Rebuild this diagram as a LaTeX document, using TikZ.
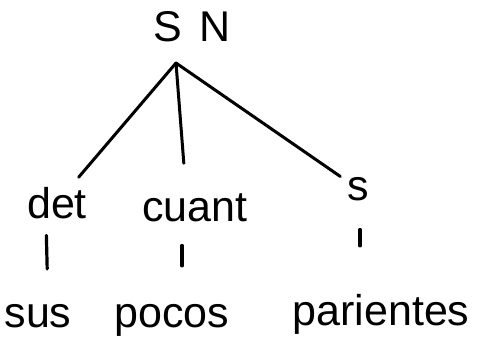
\documentclass[tikz,border=0pt]{standalone}
\usepackage{fontspec}
\setmainfont{Liberation Sans}
\usepackage{xcolor}
\usepackage{tikz}
\usetikzlibrary{positioning,calc}
\definecolor{ink}{HTML}{000000}

\begin{document}
\begin{tikzpicture}[
  x=1pt,y=-1pt,
  font=\fontsize{43}{45}\selectfont,
  cat/.style={anchor=base,inner sep=2pt,outer sep=0pt,text=ink},
  word/.style={anchor=base,inner sep=2pt,outer sep=0pt,text=ink},
  branch/.style={draw=ink,line width=3pt,line cap=round},
  stem/.style={draw=ink,line width=3.2pt,line cap=round}
]
\useasboundingbox (0,0) rectangle (479,341);
\node[cat] (sn) at (192,41) {S\hspace{0.4em}N};
\coordinate (top) at (176,63);
\node[cat] (det) at (57,218) {det};
\node[cat] (cuant) at (195,221) {cuant};
\node[cat] (s) at (358,200) {s};
\node[word] (sus) at (38,327) {sus};
\node[word] (pocos) at (172,327) {pocos};
\node[word] (parientes) at (381,325) {parientes};

\draw[branch,shorten >=10pt] (top)--(det);
\draw[branch,shorten >=28pt] (top)--([xshift=-9pt]cuant.north);
\draw[branch,shorten >=6pt] (top)--(s);
\draw[stem,shorten <=15pt,shorten >=33pt] ([xshift=-11pt]det.south)--([xshift=10pt]sus.north);
\draw[stem,shorten <=22pt,shorten >=36pt] ([xshift=-13pt]cuant.south)--([xshift=10pt]pocos.north);
\draw[stem,shorten <=27pt,shorten >=46pt] ([xshift=2pt]s.south)--([xshift=-21pt]parientes.north);
\end{tikzpicture}
\end{document}
